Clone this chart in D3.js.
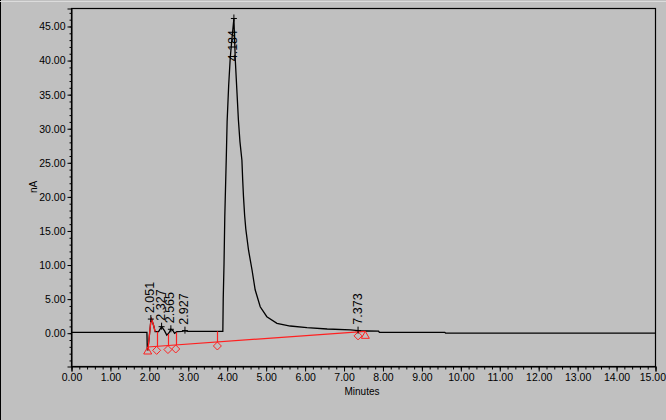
<!DOCTYPE html>
<html>
<head>
<meta charset="utf-8">
<script src="https://cdn.jsdelivr.net/npm/d3@7/dist/d3.min.js"></script>
<style>
  html, body { margin: 0; padding: 0; background: #c0c0c0; }
  svg { display: block; }
  text { font-family: "Liberation Sans", Arial, sans-serif; }
</style>
</head>
<body>
<svg id="chart" width="666" height="420"></svg>
<script>
// ---- data ----
const times  = [0, 1.95, 1.96, 1.975, 2.01, 2.045, 2.07, 2.12, 2.16, 2.25, 2.327, 2.40, 2.46, 2.52, 2.565, 2.62, 2.66, 2.72, 2.85, 2.927, 3.0, 3.5, 3.90,
                3.91, 3.93, 3.95, 3.99, 4.01, 4.05, 4.09, 4.13, 4.184, 4.22, 4.26, 4.30, 4.34, 4.39, 4.41, 4.43, 4.46, 4.49,
                4.56, 4.65, 4.73, 4.86, 5.03, 5.29, 5.63, 6.06, 6.58, 7.18, 7.373, 7.6, 7.9, 7.92, 9.6, 9.62, 15];
const signal = [0.05, 0.05, -2.5, -2.5, -0.6, 1.4, 2.0, 1.1, 0.15, 0.15, 0.88, 0.3, -0.35, 0.0, 0.5, 0.3, -0.1, 0.15, 0.2, 0.3, 0.2, 0.2, 0.2,
                5, 10, 17, 26, 31, 36.3, 40.3, 42.9, 46.1, 40, 35.6, 31.2, 28, 25.3, 22.4, 20, 17.2, 15.2,
                12.1, 9.2, 6.3, 3.8, 2.35, 1.38, 0.98, 0.73, 0.54, 0.4, 0.3, 0.25, 0.22, 0.05, 0.05, -0.05, -0.05];

const peakTimes   = [2.051, 2.327, 2.565, 2.927, 4.184, 7.373];
const peakLabels  = ["2.051", "2.327", "2.565", "2.927", "4.184", "7.373"];
const peakApex    = [2.0, 0.88, 0.5, 0.3, 46.1, 0.3];

const redPeakRange = [1.96, 2.16];                 // section of the trace drawn in red
const baselineTimes  = [1.97, 7.56];
const baselineValues = [-2.1, 0.2];
const dropTimes   = [2.20, 2.49, 2.69, 3.76, 7.373];
const markerTimes = [1.97, 2.20, 2.49, 2.69, 3.76, 7.373, 7.56];
const markerTypes = ["tri", "dia", "dia", "dia", "dia", "dia", "tri"];

const xTicks = d3.range(0, 15.0001, 1);
const xMinor = d3.range(0, 15.0001, 0.2);
const yTicks = d3.range(0, 45.0001, 5);
const yMinor = d3.range(-4, 47.0001, 1);
const xTitle = "Minutes";
const yTitle = "nA";

// ---- layout ----
const svg = d3.select("#chart");
const L = 71, R = 655, T = 8, B = 366;
const x = d3.scaleLinear().domain([0, 15]).range([L, R]);
const y = d3.scaleLinear().domain([-4.886, 47.64]).range([B, T]);
const fmt = d3.format(".2f");

// outer frame details
svg.append("rect").attr("x", 0).attr("y", 0).attr("width", 666).attr("height", 420).attr("fill", "#c0c0c0");
svg.append("line").attr("x1", 0.5).attr("x2", 0.5).attr("y1", 0).attr("y2", 420).attr("stroke", "#000");
svg.append("line").attr("x1", 0).attr("x2", 666).attr("y1", 1.5).attr("y2", 1.5).attr("stroke", "#dcdcdc");

// plot frame
svg.append("rect").attr("x", L + 0.5).attr("y", T + 0.5).attr("width", R - L).attr("height", B - T)
  .attr("fill", "none").attr("stroke", "#000").attr("stroke-width", 1.2);

// axes
const fs = "10.5px";
const xAxis = svg.append("g").attr("transform", `translate(0.5,${B + 0.5})`)
  .call(d3.axisBottom(x).tickValues(xTicks).tickFormat(fmt).tickSize(5).tickPadding(2));
svg.append("g").attr("transform", `translate(0.5,${B + 0.5})`)
  .call(d3.axisBottom(x).tickValues(xMinor).tickFormat("").tickSize(3))
  .select(".domain").remove();
const yAxis = svg.append("g").attr("transform", `translate(${L + 0.5},0.5)`)
  .call(d3.axisLeft(y).tickValues(yTicks).tickFormat(fmt).tickSize(4).tickPadding(2));
svg.append("g").attr("transform", `translate(${L + 0.5},0.5)`)
  .call(d3.axisLeft(y).tickValues(yMinor).tickFormat("").tickSize(2))
  .select(".domain").remove();
svg.selectAll(".tick text").attr("font-size", fs).attr("fill", "#000")
  .attr("font-family", "'Liberation Sans', Arial, sans-serif");
svg.selectAll(".domain").attr("stroke", "#000");
svg.selectAll(".tick line").attr("stroke", "#000");
// keep the last x label inside the window
xAxis.selectAll(".tick text").filter(d => d === 15).attr("text-anchor", "end").attr("dx", "10");

// axis titles
svg.append("text").attr("x", (L + R) / 2 - 1).attr("y", 395).attr("text-anchor", "middle")
  .attr("font-size", "10px").text(xTitle);
svg.append("text").attr("transform", `translate(37,187) rotate(-90)`).attr("text-anchor", "middle")
  .attr("font-size", "10px").text(yTitle);

// trace
const pts = times.map((t, i) => [t, signal[i]]);
const line = d3.line().x(d => x(d[0])).y(d => y(d[1]));
const g = svg.append("g");
g.append("path").datum(pts).attr("d", line).attr("fill", "none").attr("stroke", "#000").attr("stroke-width", 1.3);
g.append("path").datum(pts.filter(d => d[0] >= redPeakRange[0] && d[0] <= redPeakRange[1]))
  .attr("d", line).attr("fill", "none").attr("stroke", "#ff2020").attr("stroke-width", 1.3);

// interpolators
const sigAt = t => { const i = d3.bisectRight(times, t); if (i <= 0) return signal[0]; if (i >= times.length) return signal[times.length-1];
  const a = times[i-1], b = times[i]; return signal[i-1] + (signal[i]-signal[i-1]) * (t-a)/(b-a); };
const baseAt = t => baselineValues[0] + (baselineValues[1]-baselineValues[0]) * (t-baselineTimes[0])/(baselineTimes[1]-baselineTimes[0]);

// baseline (red)
g.append("line").attr("x1", x(baselineTimes[0])).attr("y1", y(baselineValues[0]))
  .attr("x2", x(baselineTimes[1])).attr("y2", y(baselineValues[1])).attr("stroke", "#ff2020").attr("stroke-width", 1.2);
// drop lines
g.selectAll(".drop").data(dropTimes).enter().append("line")
  .attr("x1", d => Math.round(x(d)) + 0.5).attr("x2", d => Math.round(x(d)) + 0.5)
  .attr("y1", d => y(baseAt(d))).attr("y2", d => y(sigAt(d)))
  .attr("stroke", "#ff2020").attr("stroke-width", 1.2);
// markers
g.selectAll(".mk").data(markerTimes).enter().append("path")
  .attr("d", (d, i) => {
    const cx = x(d), cy = y(baseAt(d));
    if (markerTypes[i] === "tri") return `M${cx},${cy} L${cx + 4},${cy + 7} L${cx - 4},${cy + 7} Z`;
    return `M${cx},${cy} L${cx + 4},${cy + 4} L${cx},${cy + 8} L${cx - 4},${cy + 4} Z`;
  })
  .attr("fill", "none").attr("stroke", "#ff2020").attr("stroke-width", 1);

// peak crosses and labels
const lab = svg.append("g");
peakTimes.forEach((t, i) => {
  const px = x(t), py = y(peakApex[i]);
  lab.append("line").attr("x1", px).attr("x2", px).attr("y1", py - 4).attr("y2", py + 3).attr("stroke", "#000");
  lab.append("line").attr("x1", px - 3).attr("x2", px + 3).attr("y1", py).attr("y2", py).attr("stroke", "#000");
  const txt = lab.append("text").attr("font-size", "12.5px").attr("fill", "#000").text(peakLabels[i]);
  const len = txt.node().getComputedTextLength();
  const by = Math.max(py - 6, 30 + len);
  txt.attr("transform", `translate(${px + 3.5},${by}) rotate(-90)`);
});
</script>
</body>
</html>
